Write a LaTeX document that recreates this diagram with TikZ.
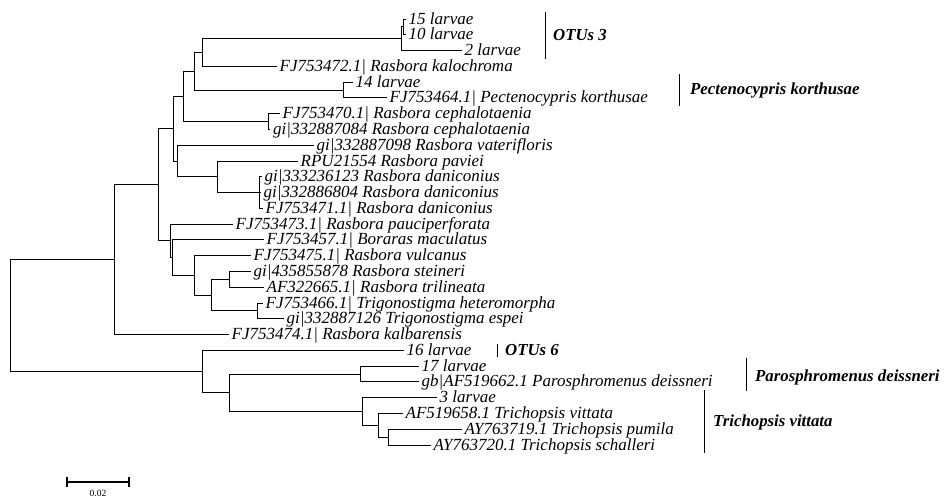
\documentclass[tikz,border=0pt]{standalone}
\usepackage{fontspec}
\setmainfont{Liberation Serif}
\begin{document}
\begin{tikzpicture}[x=1pt,y=-1pt,
  br/.style={line width=1pt,line cap=rect},
  lab/.style={anchor=base west,inner sep=0pt,xshift=3.5pt,yshift=-5pt,font=\fontsize{17}{19}\selectfont\itshape},
  clab/.style={anchor=base west,inner sep=0pt,font=\fontsize{16.8}{19}\selectfont\bfseries\itshape},
  brk/.style={line width=1pt}]
\useasboundingbox (0,0) rectangle (944,498);
% internal nodes
\coordinate (r) at (10,315.7);
\coordinate (A) at (114,259.7);
\coordinate (C) at (158,184.8);
\coordinate (B4) at (173,128.7);
\coordinate (B3) at (183,96.4);
\coordinate (B2) at (194,71.3);
\coordinate (B1) at (202,52.5);
\coordinate (otu) at (401,38.75);
\coordinate (o1) at (403,26.9);
\coordinate (pect) at (343,90);
\coordinate (ceph) at (268,121.6);
\coordinate (D) at (177,161);
\coordinate (D1) at (217,176.8);
\coordinate (D2) at (259,192.6);
\coordinate (C1) at (170.5,240.9);
\coordinate (C2) at (172,257.7);
\coordinate (C3) at (194,275.4);
\coordinate (C4) at (211,295.2);
\coordinate (C5) at (229,279.4);
\coordinate (C6) at (257,310.9);
\coordinate (E) at (202,371.6);
\coordinate (E1) at (229,392.8);
\coordinate (E2) at (360,374);
\coordinate (E3) at (362,411.5);
\coordinate (E4) at (378,425.4);
\coordinate (E5) at (388,437.2);
% leaf ends
\coordinate (l1) at (405,19.0);
\coordinate (l2) at (405,34.8);
\coordinate (l3) at (461,50.6);
\coordinate (l4) at (276,66.3);
\coordinate (l5) at (352,82.1);
\coordinate (l6) at (386,97.9);
\coordinate (l7) at (279,113.7);
\coordinate (l8) at (269.5,129.5);
\coordinate (l9) at (313,145.2);
\coordinate (l10) at (297,161.0);
\coordinate (l11) at (261,176.8);
\coordinate (l12) at (260,192.6);
\coordinate (l13) at (262,208.4);
\coordinate (l14) at (232,224.1);
\coordinate (l15) at (263,239.9);
\coordinate (l16) at (250,255.7);
\coordinate (l17) at (250,271.5);
\coordinate (l18) at (263,287.3);
\coordinate (l19) at (262,303.0);
\coordinate (l20) at (283,318.8);
\coordinate (l21) at (228,334.6);
\coordinate (l22) at (403,350.4);
\coordinate (l23) at (418,366.2);
\coordinate (l24) at (418,381.9);
\coordinate (l25) at (436,397.7);
\coordinate (l26) at (402,413.5);
\coordinate (l27) at (461,429.3);
\coordinate (l28) at (430,445.1);
% branches
\draw[br] (r) |- (A); \draw[br] (r) |- (E);
\draw[br] (A) |- (C); \draw[br] (A) |- (l21);
\draw[br] (C) |- (B4); \draw[br] (C) |- (C1);
\draw[br] (B4) |- (B3); \draw[br] (B4) |- (D);
\draw[br] (B3) |- (B2); \draw[br] (B3) |- (ceph);
\draw[br] (B2) |- (B1); \draw[br] (B2) |- (pect);
\draw[br] (B1) |- (otu); \draw[br] (B1) |- (l4);
\draw[br] (otu) |- (o1); \draw[br] (otu) |- (l3);
\draw[br] (o1) |- (l1); \draw[br] (o1) |- (l2);
\draw[br] (pect) |- (l5); \draw[br] (pect) |- (l6);
\draw[br] (ceph) |- (l7); \draw[br] (ceph) |- (l8);
\draw[br] (D) |- (l9); \draw[br] (D) |- (D1);
\draw[br] (D1) |- (l10); \draw[br] (D1) |- (D2);
\draw[br] (D2) |- (l11); \draw[br] (D2) |- (l12); \draw[br] (D2) |- (l13);
\draw[br] (C1) |- (l14); \draw[br] (C1) |- (C2);
\draw[br] (C2) |- (l15); \draw[br] (C2) |- (C3);
\draw[br] (C3) |- (l16); \draw[br] (C3) |- (C4);
\draw[br] (C4) |- (C5); \draw[br] (C4) |- (C6);
\draw[br] (C5) |- (l17); \draw[br] (C5) |- (l18);
\draw[br] (C6) |- (l19); \draw[br] (C6) |- (l20);
\draw[br] (E) |- (l22); \draw[br] (E) |- (E1);
\draw[br] (E1) |- (E2); \draw[br] (E1) |- (E3);
\draw[br] (E2) |- (l23); \draw[br] (E2) |- (l24);
\draw[br] (E3) |- (l25); \draw[br] (E3) |- (E4);
\draw[br] (E4) |- (l26); \draw[br] (E4) |- (E5);
\draw[br] (E5) |- (l27); \draw[br] (E5) |- (l28);
% leaf labels
\node[lab] (t1) at (l1) {15 larvae};
\node[lab] (t2) at (l2) {10 larvae};
\node[lab] (t3) at (l3) {2 larvae};
\node[lab] (t4) at (l4) {FJ753472.1| Rasbora kalochroma};
\node[lab] (t5) at (l5) {14 larvae};
\node[lab] (t6) at (l6) {FJ753464.1| Pectenocypris korthusae};
\node[lab] (t7) at (l7) {FJ753470.1| Rasbora cephalotaenia};
\node[lab] (t8) at (l8) {gi|332887084 Rasbora cephalotaenia};
\node[lab] (t9) at (l9) {gi|332887098 Rasbora vaterifloris};
\node[lab] (t10) at (l10) {RPU21554 Rasbora paviei};
\node[lab] (t11) at (l11) {gi|333236123 Rasbora daniconius};
\node[lab] (t12) at (l12) {gi|332886804 Rasbora daniconius};
\node[lab] (t13) at (l13) {FJ753471.1| Rasbora daniconius};
\node[lab] (t14) at (l14) {FJ753473.1| Rasbora pauciperforata};
\node[lab] (t15) at (l15) {FJ753457.1| Boraras maculatus};
\node[lab] (t16) at (l16) {FJ753475.1| Rasbora vulcanus};
\node[lab] (t17) at (l17) {gi|435855878 Rasbora steineri};
\node[lab] (t18) at (l18) {AF322665.1| Rasbora trilineata};
\node[lab] (t19) at (l19) {FJ753466.1| Trigonostigma heteromorpha};
\node[lab] (t20) at (l20) {gi|332887126 Trigonostigma espei};
\node[lab] (t21) at (l21) {FJ753474.1| Rasbora kalbarensis};
\node[lab] (t22) at (l22) {16 larvae};
\node[lab] (t23) at (l23) {17 larvae};
\node[lab] (t24) at (l24) {gb|AF519662.1 Parosphromenus deissneri};
\node[lab] (t25) at (l25) {3 larvae};
\node[lab] (t26) at (l26) {AF519658.1 Trichopsis vittata};
\node[lab] (t27) at (l27) {AY763719.1 Trichopsis pumila};
\node[lab] (t28) at (l28) {AY763720.1 Trichopsis schalleri};
% clade brackets
\coordinate (k1a) at (545,12); \coordinate (k1b) at (545,59);
\draw[brk] (k1a) -- (k1b);
\node[clab] (c1) at (553,40.5) {OTUs 3};
\coordinate (k2a) at (679,74); \coordinate (k2b) at (679,106);
\draw[brk] (k2a) -- (k2b);
\node[clab] (c2) at (690,94.5) {Pectenocypris korthusae};
\coordinate (k3a) at (497,344); \coordinate (k3b) at (497,357);
\draw[brk] (k3a) -- (k3b);
\node[clab] (c3) at (505,355.5) {OTUs 6};
\coordinate (k4a) at (746,358); \coordinate (k4b) at (746,391);
\draw[brk] (k4a) -- (k4b);
\node[clab] (c4) at (755,381) {Parosphromenus deissneri};
\coordinate (k5a) at (704,390); \coordinate (k5b) at (704,453);
\draw[brk] (k5a) -- (k5b);
\node[clab] (c5) at (713,426.5) {Trichopsis vittata};
% scale bar
\coordinate (s1) at (67,482.3); \coordinate (s2) at (129,482.3);
\draw[line width=2pt] (s1) -- (s2);
\draw[line width=1.6pt] ([yshift=5pt]s1) -- ([yshift=-5pt]s1);
\draw[line width=1.6pt] ([yshift=5pt]s2) -- ([yshift=-5pt]s2);
\node[anchor=base,inner sep=0pt,font=\fontsize{9.5}{11}\selectfont] (sl) at (98,496) {0.02};
\end{tikzpicture}
\end{document}
